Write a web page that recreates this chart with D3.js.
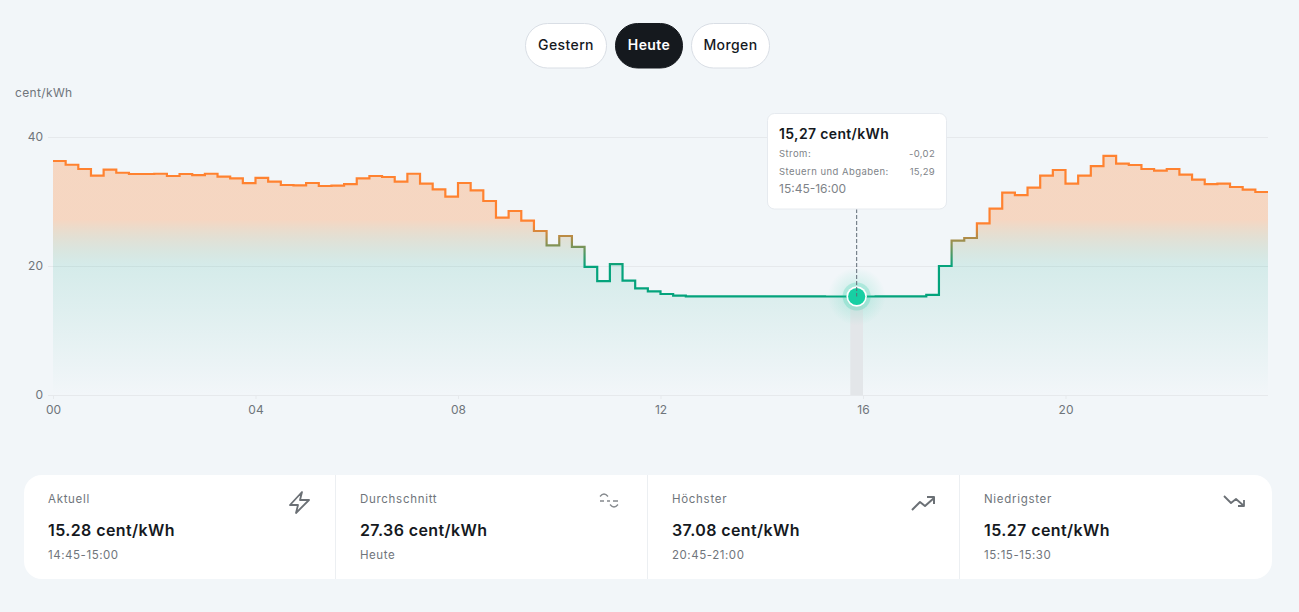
<!DOCTYPE html>
<html>
<head>
<meta charset="utf-8">
<script src="https://cdn.jsdelivr.net/npm/d3@7"></script>
<style>
  html, body { margin: 0; padding: 0; background: #f2f6f9; overflow: hidden; }
  svg { display: block; }
  text { font-family: Inter, "Noto Sans", sans-serif; }
</style>
</head>
<body>
<div id="app"></div>
<script>
// quarter hour prices, cent/kWh
var prices = [
  36.28, 35.7, 35.04, 34.0, 34.93, 34.46, 34.26, 34.26, 34.3, 33.95, 34.26, 34.1,
  34.3, 33.85, 33.6, 32.85, 33.65, 33.07, 32.56, 32.5, 32.87, 32.4, 32.46, 32.7,
  33.6, 33.95, 33.8, 33.07, 34.3, 32.76, 31.88, 30.75, 32.87, 31.73, 30.08, 27.5,
  28.53, 27.03, 25.43, 23.2, 24.65, 22.95, 19.85, 17.67, 20.3, 17.72, 16.53, 16.07,
  15.66, 15.4, 15.29, 15.29, 15.29, 15.28, 15.28, 15.28, 15.28, 15.28, 15.28, 15.28,
  15.28, 15.27, 15.27, 15.27, 15.27, 15.28, 15.28, 15.28, 15.28, 15.52, 20.0, 23.93,
  24.34, 26.6, 28.9, 31.37, 31.0, 32.15, 34.0, 34.88, 32.77, 34.0, 35.5, 37.08,
  35.87, 35.66, 35.04, 34.78, 35.04, 34.16, 33.39, 32.7, 32.77, 32.25, 31.83, 31.47
];
var hourTicks = [0, 4, 8, 12, 16, 20];
var priceTicks = [0, 20, 40];
var selectedIndex = 63;

var dayButtons = ["Gestern", "Heute", "Morgen"];
var cardTitles = ["Aktuell", "Durchschnitt", "Höchster", "Niedrigster"];
var cardValues = ["15.28 cent/kWh", "27.36 cent/kWh", "37.08 cent/kWh", "15.27 cent/kWh"];
var cardNotes = ["14:45-15:00", "Heute", "20:45-21:00", "15:15-15:30"];

var svg = d3.select("#app").append("svg")
  .attr("width", 1299)
  .attr("height", 612);

var x = d3.scaleLinear().domain([0, 24]).range([53, 1268]);
var y = d3.scaleLinear().domain([0, 40]).range([395, 137]);

var ink = "#15191e";
var muted = "#6f757b";
var faint = "#7e8388";

// --- day switch
var buttonX = [525, 615, 691];
var buttonW = [82, 68, 79];
var buttons = svg.selectAll("g.day")
  .data(dayButtons)
  .enter()
  .append("g")
  .attr("class", "day")
  .attr("transform", function(d, i) { return "translate(" + buttonX[i] + ",23)"; });

buttons.append("rect")
  .attr("x", 0.5)
  .attr("y", 0.5)
  .attr("width", function(d, i) { return buttonW[i] - 1; })
  .attr("height", 44.5)
  .attr("rx", 22)
  .attr("fill", function(d) { return d == "Heute" ? ink : "#fff"; })
  .attr("stroke", function(d) { return d == "Heute" ? ink : "#d9dee5"; });

buttons.append("text")
  .attr("x", function(d, i) { return buttonW[i] / 2; })
  .attr("y", 27)
  .attr("text-anchor", "middle")
  .style("font-size", "14px")
  .style("letter-spacing", "0.4px")
  .style("font-weight", function(d) { return d == "Heute" ? 600 : 500; })
  .attr("fill", function(d) { return d == "Heute" ? "#fff" : ink; })
  .text(function(d) { return d; });

svg.append("text")
  .attr("x", 15)
  .attr("y", 97)
  .style("font-size", "12px")
  .style("letter-spacing", "0.35px")
  .attr("fill", muted)
  .text("cent/kWh");

// --- gradients
var defs = svg.append("defs");

var lineGrad = defs.append("linearGradient")
  .attr("id", "lineGrad")
  .attr("gradientUnits", "userSpaceOnUse")
  .attr("x1", 0).attr("x2", 0)
  .attr("y1", y(40)).attr("y2", y(0));
lineGrad.append("stop").attr("offset", 0.34).attr("stop-color", "#ff8230");
lineGrad.append("stop").attr("offset", 0.5).attr("stop-color", "#04a37c");

var areaGrad = defs.append("linearGradient")
  .attr("id", "areaGrad")
  .attr("gradientUnits", "userSpaceOnUse")
  .attr("x1", 0).attr("x2", 0)
  .attr("y1", y(40)).attr("y2", y(0));
areaGrad.append("stop").attr("offset", 0.32).attr("stop-color", "#ff8533").attr("stop-opacity", 0.28);
areaGrad.append("stop").attr("offset", 0.5).attr("stop-color", "#2fae94").attr("stop-opacity", 0.15);
areaGrad.append("stop").attr("offset", 1).attr("stop-color", "#2fae94").attr("stop-opacity", 0);

var haloGrad = defs.append("radialGradient").attr("id", "haloGrad");
haloGrad.append("stop").attr("offset", 0.4).attr("stop-color", "#1ccba0").attr("stop-opacity", 0.14);
haloGrad.append("stop").attr("offset", 1).attr("stop-color", "#1ccba0").attr("stop-opacity", 0);

// --- axes
var yAxis = svg.append("g")
  .attr("transform", "translate(48,0)")
  .call(d3.axisLeft(y).tickValues(priceTicks).tickSize(0).tickPadding(5));
yAxis.select(".domain").remove();
yAxis.selectAll(".tick line")
  .attr("x2", 1220)
  .attr("stroke", "#e6e9ec");
yAxis.selectAll("text")
  .style("font-size", "12px")
  .style("font-family", "Inter, sans-serif")
  .attr("fill", muted);

var xAxis = svg.append("g")
  .attr("transform", "translate(0,395)")
  .call(d3.axisBottom(x)
    .tickValues(hourTicks)
    .tickSize(4)
    .tickPadding(6)
    .tickFormat(function(d) { return d3.format("02")(d); }));
xAxis.select(".domain").remove();
xAxis.selectAll(".tick line").attr("stroke", "#e6e9ec");
xAxis.selectAll("text")
  .style("font-size", "12px")
  .style("font-family", "Inter, sans-serif")
  .attr("fill", muted);

// --- price curve, the last step runs to 24:00
var steps = prices.map(function(d, i) { return {h: i / 4, v: d}; });
steps.push({h: 24, v: prices[prices.length - 1]});

svg.append("path")
  .datum(steps)
  .attr("fill", "url(#areaGrad)")
  .attr("d", d3.area().curve(d3.curveStepAfter)
    .x(function(d) { return x(d.h); })
    .y0(y(0))
    .y1(function(d) { return y(d.v); }));

svg.append("path")
  .datum(steps)
  .attr("fill", "none")
  .attr("stroke", "url(#lineGrad)")
  .attr("stroke-width", 2.2)
  .attr("d", d3.line().curve(d3.curveStepAfter)
    .x(function(d) { return x(d.h); })
    .y(function(d) { return y(d.v); }));

// --- selected quarter hour
var selH = selectedIndex / 4;
var selX = (x(selH) + x(selH + 0.25)) / 2;
var selY = y(prices[selectedIndex]);

svg.append("rect")
  .attr("x", x(selH))
  .attr("y", selY)
  .attr("width", x(selH + 0.25) - x(selH))
  .attr("height", y(0) - selY)
  .attr("fill", "#e3e6e9");

svg.append("circle").attr("cx", selX).attr("cy", selY).attr("r", 29).attr("fill", "url(#haloGrad)");
svg.append("circle").attr("cx", selX).attr("cy", selY).attr("r", 14).attr("fill", "#1ccba0").attr("opacity", 0.22);
svg.append("circle").attr("cx", selX).attr("cy", selY).attr("r", 10.2).attr("fill", "#fff");
svg.append("circle").attr("cx", selX).attr("cy", selY).attr("r", 8.6).attr("fill", "#17cfa3");

svg.append("line")
  .attr("x1", selX).attr("x2", selX)
  .attr("y1", 209).attr("y2", selY)
  .attr("stroke", "#5f6b76")
  .attr("stroke-dasharray", "4 2");

// --- tooltip
var tip = svg.append("g").attr("transform", "translate(767,113)");
tip.append("rect")
  .attr("x", 0.5).attr("y", 0.5)
  .attr("width", 179).attr("height", 95.5)
  .attr("rx", 7)
  .attr("fill", "#fff")
  .attr("stroke", "#e6eaef");
tip.append("text").attr("x", 12).attr("y", 26)
  .style("font-size", "14px").style("font-weight", 600).style("letter-spacing", "0.35px").attr("fill", ink)
  .text("15,27 cent/kWh");
tip.append("text").attr("x", 12).attr("y", 44)
  .style("font-size", "9.5px").style("letter-spacing", "0.45px").attr("fill", faint).text("Strom:");
tip.append("text").attr("x", 168).attr("y", 44).attr("text-anchor", "end")
  .style("font-size", "9.5px").style("letter-spacing", "0.3px").attr("fill", faint).text("-0,02");
tip.append("text").attr("x", 12).attr("y", 62)
  .style("font-size", "9.5px").style("letter-spacing", "0.45px").attr("fill", faint).text("Steuern und Abgaben:");
tip.append("text").attr("x", 168).attr("y", 62).attr("text-anchor", "end")
  .style("font-size", "9.5px").style("letter-spacing", "0.3px").attr("fill", faint).text("15,29");
tip.append("text").attr("x", 12).attr("y", 80)
  .style("font-size", "12px").attr("fill", faint).text("15:45-16:00");

// --- stat cards
svg.append("rect")
  .attr("x", 24).attr("y", 475)
  .attr("width", 1248).attr("height", 104)
  .attr("rx", 18)
  .attr("fill", "#fff");

var cardX = [48, 360, 672, 984];
var dividerX = [335.5, 647.5, 959.5];

svg.selectAll("line.divider")
  .data(dividerX)
  .enter()
  .append("line")
  .attr("class", "divider")
  .attr("x1", function(d) { return d; })
  .attr("x2", function(d) { return d; })
  .attr("y1", 475).attr("y2", 579)
  .attr("stroke", "#eceff2");

svg.selectAll("text.cardTitle")
  .data(cardTitles)
  .enter()
  .append("text")
  .attr("class", "cardTitle")
  .attr("x", function(d, i) { return cardX[i]; })
  .attr("y", 503)
  .style("font-size", "11.5px")
  .style("letter-spacing", "0.7px")
  .attr("fill", muted)
  .text(function(d) { return d; });

svg.selectAll("text.cardValue")
  .data(cardValues)
  .enter()
  .append("text")
  .attr("class", "cardValue")
  .attr("x", function(d, i) { return cardX[i]; })
  .attr("y", 536)
  .style("font-size", "16px")
  .style("letter-spacing", "0.4px")
  .style("font-weight", 600)
  .attr("fill", ink)
  .text(function(d) { return d; });

svg.selectAll("text.cardNote")
  .data(cardNotes)
  .enter()
  .append("text")
  .attr("class", "cardNote")
  .attr("x", function(d, i) { return cardX[i]; })
  .attr("y", 559)
  .style("font-size", "11.5px")
  .style("letter-spacing", "0.55px")
  .attr("fill", muted)
  .text(function(d) { return d; });

// --- icons
var icons = svg.append("g")
  .attr("fill", "none")
  .attr("stroke", "#6b7075")
  .attr("stroke-linejoin", "round");
icons.append("path")
  .attr("stroke-width", 1.8)
  .attr("d", "M302 492 L290 505 L298 505 L296 513 L309 500 L300 500 Z");
icons.append("path")
  .attr("stroke-width", 1.3)
  .attr("stroke", "#85898d")
  .attr("d", "M600 496.5 Q604 491.5 608 496.5 M600 501 L604 501 M607 501 L610 501 M613 501 L618 501 M610 504.5 Q614 509.5 618 504.5");
icons.append("path")
  .attr("stroke-width", 2)
  .attr("d", "M912 510 L920 502 L925 506 L934 498 M927 497 L934 497 L934 504");
icons.append("path")
  .attr("stroke-width", 1.8)
  .attr("d", "M1224 496 L1231 503 L1236 499 L1244 506 M1244 500 L1244 506 L1238 506");
</script>
</body>
</html>
